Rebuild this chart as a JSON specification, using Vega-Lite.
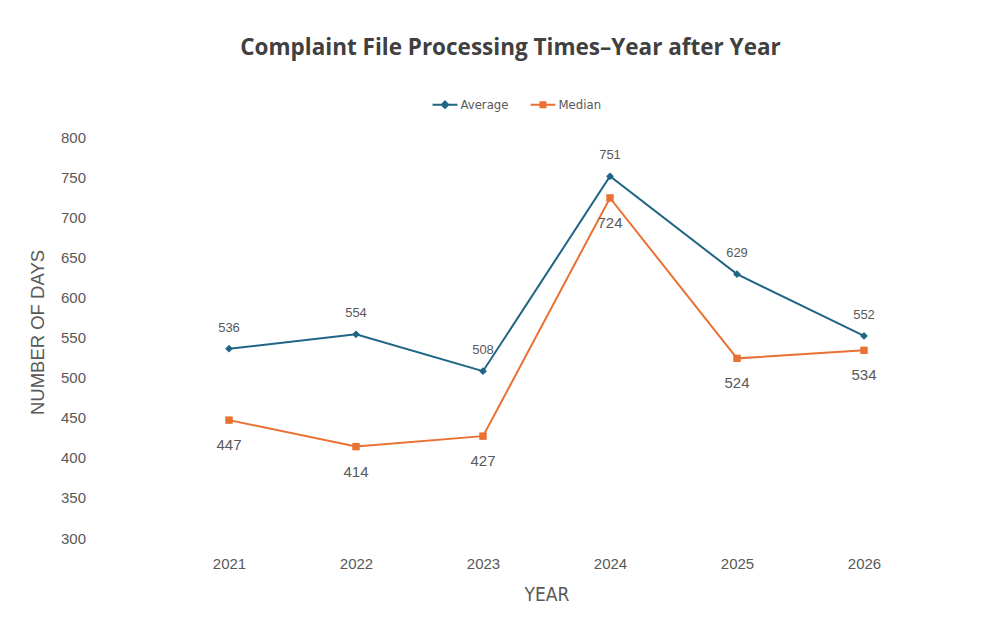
{
  "$schema": "https://vega.github.io/schema/vega-lite/v6.json",
  "autosize": "none",
  "width": 762,
  "height": 401,
  "padding": {"left": 165.5, "top": 137, "right": 75.5, "bottom": 99},
  "background": "white",
  "title": {
    "text": "Complaint File Processing Times–Year after Year",
    "font": "Open Sans",
    "fontWeight": "bold",
    "fontSize": 22.5,
    "color": "#404040",
    "anchor": "middle",
    "dx": -36,
    "offset": 32
  },
  "data": {
    "values": [
      {"year": "2021", "series": "Average", "days": 536},
      {"year": "2022", "series": "Average", "days": 554},
      {"year": "2023", "series": "Average", "days": 508},
      {"year": "2024", "series": "Average", "days": 751},
      {"year": "2025", "series": "Average", "days": 629},
      {"year": "2026", "series": "Average", "days": 552},
      {"year": "2021", "series": "Median", "days": 447},
      {"year": "2022", "series": "Median", "days": 414},
      {"year": "2023", "series": "Median", "days": 427},
      {"year": "2024", "series": "Median", "days": 724},
      {"year": "2025", "series": "Median", "days": 524},
      {"year": "2026", "series": "Median", "days": 534}
    ]
  },
  "encoding": {
    "x": {
      "field": "year",
      "type": "ordinal",
      "scale": {"type": "point", "padding": 0.5},
      "axis": {
        "title": "YEAR",
        "labelAngle": 0,
        "domain": false,
        "ticks": false,
        "grid": false,
        "labelFont": "Liberation Sans",
        "labelFontSize": 15,
        "labelColor": "#595959",
        "labelPadding": 18,
        "titleFont": "DejaVu Sans Condensed, Liberation Sans",
        "titleFontSize": 19,
        "titleFontWeight": "normal",
        "titleColor": "#595959",
        "titlePadding": 14
      }
    },
    "y": {
      "field": "days",
      "type": "quantitative",
      "scale": {"domain": [300, 800], "nice": false, "zero": false},
      "axis": {
        "title": "NUMBER OF DAYS",
        "values": [300, 350, 400, 450, 500, 550, 600, 650, 700, 750, 800],
        "domain": false,
        "ticks": false,
        "grid": false,
        "labelFont": "Liberation Sans",
        "labelFontSize": 15,
        "labelColor": "#595959",
        "labelPadding": 80,
        "titleFont": "Liberation Sans",
        "titleFontSize": 18.5,
        "titleFontWeight": "normal",
        "titleColor": "#595959",
        "titlePadding": 13,
        "titleY": 195
      }
    },
    "color": {
      "field": "series",
      "type": "nominal",
      "scale": {"domain": ["Average", "Median"], "range": ["#1F6584", "#E97132"]},
      "legend": {
        "title": null,
        "orient": "none",
        "legendX": 266,
        "legendY": -46,
        "direction": "horizontal",
        "labelFont": "DejaVu Sans Condensed, Liberation Sans",
        "labelFontSize": 13,
        "labelColor": "#595959",
        "symbolType": "M-1,0H1M0,-0.26L0.26,0L0,0.26L-0.26,0Z",
        "symbolSize": 620,
        "symbolStrokeWidth": 2,
        "symbolOffset": 0,
        "columnPadding": 18,
        "labelOffset": 2,
        "encode": {
          "symbols": {
            "update": {
              "shape": {"signal": "datum.value === 'Average' ? 'M-1,0H1M0,-0.26L0.26,0L0,0.26L-0.26,0Z' : 'M-1,0H1M-0.2,-0.2H0.2V0.2H-0.2Z'"},
              "fill": {"scale": "color", "field": "value"},
              "fillOpacity": {"value": 1}
            }
          }
        }
      }
    }
  },
  "layer": [
    {"mark": {"type": "line", "strokeWidth": 2}},
    {
      "transform": [{"filter": "datum.series === 'Average'"}],
      "mark": {"type": "point", "filled": true, "opacity": 1, "shape": "diamond", "size": 60}
    },
    {
      "transform": [{"filter": "datum.series === 'Median'"}],
      "mark": {"type": "point", "filled": true, "opacity": 1, "shape": "square", "size": 55}
    },
    {
      "transform": [{"filter": "datum.series === 'Average'"}],
      "mark": {"type": "text", "dy": -21, "font": "Liberation Sans", "fontSize": 13, "color": "#595959"},
      "encoding": {"text": {"field": "days", "type": "quantitative"}, "color": {"value": "#595959"}}
    },
    {
      "transform": [{"filter": "datum.series === 'Median'"}],
      "mark": {"type": "text", "dy": 25, "font": "Liberation Sans", "fontSize": 15, "color": "#595959"},
      "encoding": {"text": {"field": "days", "type": "quantitative"}, "color": {"value": "#595959"}}
    }
  ],
  "config": {"view": {"stroke": null}}
}
